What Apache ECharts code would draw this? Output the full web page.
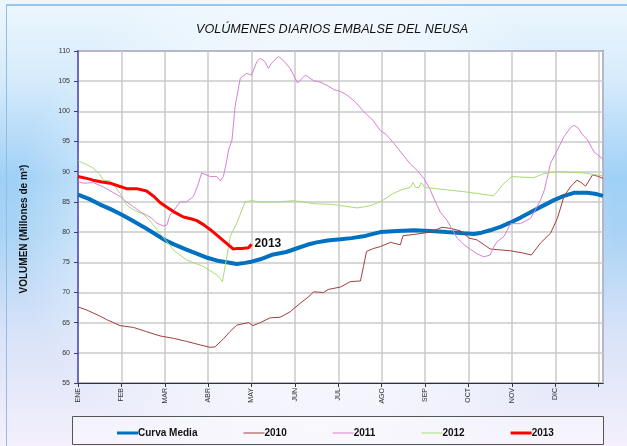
<!DOCTYPE html>
<html>
<head>
<meta charset="utf-8">
<title>Volúmenes diarios embalse del Neusa</title>
<script src="https://cdn.jsdelivr.net/npm/echarts@6/dist/echarts.min.js"></script>
<style>
    html, body { margin:0; padding:0; }
    body {
        width:627px; height:446px; overflow:hidden;
        background:
            radial-gradient(ellipse 48% 60% at 50% 50%, rgba(255,255,255,0.95) 40%, rgba(255,255,255,0) 100%),
            linear-gradient(to bottom, #eef7fe 0%, #d6ebfb 18%, #9fd0f6 40%, #a9d3f5 52%, #d9e3f8 75%, #f4f0fc 100%);
    }
    .frame {
        position:absolute; left:6px; top:4px; right:0; bottom:0;
        border-left:1px solid #8fbde3; border-top:2px solid #9cc6e8;
    }
    #main { position:absolute; left:0; top:0; width:627px; height:446px; }
</style>
</head>
<body>
<div class="frame"></div>
<div id="main"></div>
<script>
    // meses del eje x (posicion = indice del mes)
    var meses = ['ENE', 'FEB', 'MAR', 'ABR', 'MAY', 'JUN', 'JUL', 'AGO', 'SEP', 'OCT', 'NOV', 'DIC']

    // volumenes: [mes, millones de m3]
    var curvaMedia = [
        [0,86.2],[0.25,85.5],[0.5,84.6],[0.75,83.8],[1.0,82.9],[1.25,81.9],[1.5,80.9],[1.75,79.8],
        [2.0,78.7],[2.2,78.0],[2.5,77.1],[2.75,76.4],[3.0,75.7],[3.25,75.2],[3.43,75.0],[3.66,74.7],
        [3.85,74.9],[4.0,75.1],[4.2,75.5],[4.5,76.3],[4.8,76.7],[5.0,77.2],[5.28,77.9],[5.5,78.3],
        [5.75,78.6],[6.05,78.8],[6.3,79.0],[6.58,79.3],[6.8,79.7],[6.97,80.0],[7.36,80.2],[7.75,80.3],
        [8.12,80.2],[8.5,80.0],[8.89,79.8],[9.12,79.7],[9.3,79.9],[9.5,80.3],[9.75,80.9],[9.97,81.6],
        [10.2,82.4],[10.43,83.3],[10.7,84.3],[10.97,85.3],[11.2,86.0],[11.43,86.5],[11.74,86.5],
        [11.95,86.3],[12.1,86.0]
    ]
    var v2010 = [
        [0,67.6],[0.2,67.1],[0.35,66.6],[0.5,66.1],[0.66,65.5],[0.82,65.0],[0.97,64.5],[1.28,64.2],
        [1.58,63.5],[1.89,62.8],[2.2,62.4],[2.5,61.9],[2.82,61.3],[3.05,60.9],[3.16,61.0],[3.35,62.3],
        [3.5,63.5],[3.66,64.6],[3.93,65.0],[4.03,64.5],[4.2,65.0],[4.43,65.8],[4.66,65.9],[4.89,66.8],
        [5.12,68.2],[5.3,69.2],[5.43,70.1],[5.66,70.0],[5.77,70.5],[6.05,70.9],[6.28,71.8],[6.51,71.9],
        [6.58,74.3],[6.65,76.8],[6.82,77.3],[6.97,77.6],[7.2,78.3],[7.43,77.9],[7.49,79.4],[7.74,79.6],
        [8.12,80.0],[8.39,80.8],[8.6,80.6],[8.82,80.2],[9.01,79.0],[9.2,78.7],[9.5,77.2],[9.97,76.9],
        [10.28,76.5],[10.45,76.2],[10.66,78.2],[10.89,79.8],[11.05,82.3],[11.2,85.9],[11.35,87.5],
        [11.5,88.6],[11.6,88.2],[11.7,87.6],[11.86,89.5],[12.0,89.2],[12.1,88.9]
    ]
    var v2011 = [
        [0,88.4],[0.12,88.1],[0.35,88.2],[0.58,87.5],[0.8,86.6],[0.97,85.9],[1.12,85.0],[1.28,84.2],
        [1.45,83.3],[1.58,82.8],[1.7,82.3],[1.81,81.5],[1.97,81.0],[2.05,81.2],[2.12,82.8],[2.25,84.0],
        [2.35,85.0],[2.5,85.0],[2.66,85.9],[2.75,87.5],[2.85,89.8],[3.05,89.2],[3.2,89.2],[3.28,88.5],
        [3.35,89.2],[3.42,91.5],[3.47,93.6],[3.55,95.3],[3.62,100.8],[3.74,105.5],[3.89,106.3],[4.0,106.0],
        [4.12,108.2],[4.2,108.8],[4.3,108.3],[4.39,107.1],[4.45,107.9],[4.62,109.1],[4.75,108.3],
        [4.89,107.1],[5.06,104.7],[5.24,106.0],[5.43,105.1],[5.6,104.8],[5.74,104.3],[5.9,103.6],
        [6.05,103.3],[6.2,102.7],[6.4,101.5],[6.58,100.0],[6.8,98.5],[6.97,96.8],[7.1,96.2],[7.28,94.7],
        [7.5,92.7],[7.66,91.3],[7.82,90.2],[7.97,88.9],[8.1,87.3],[8.2,85.6],[8.35,83.3],[8.5,82.0],
        [8.62,80.5],[8.74,79.0],[8.9,77.9],[9.05,77.1],[9.2,76.4],[9.35,75.9],[9.5,76.2],[9.58,77.5],
        [9.66,78.4],[9.82,79.3],[9.97,81.4],[10.2,81.4],[10.43,82.3],[10.55,83.8],[10.66,85.3],
        [10.75,87.0],[10.89,91.4],[11.05,93.6],[11.2,95.8],[11.35,97.3],[11.43,97.7],[11.52,97.3],
        [11.62,96.2],[11.74,95.3],[11.89,93.3],[12.1,92.1]
    ]
    var v2012 = [
        [0,91.8],[0.2,91.2],[0.35,90.6],[0.5,89.6],[0.58,88.6],[0.74,88.5],[0.85,87.6],[0.97,86.4],
        [1.12,84.5],[1.3,83.6],[1.5,83.0],[1.7,81.5],[1.89,79.8],[2.05,78.4],[2.2,77.0],[2.5,75.4],
        [2.89,74.3],[3.2,72.9],[3.33,71.8],[3.51,79.3],[3.66,81.5],[3.85,85.0],[4.0,85.2],[4.2,85.0],
        [4.6,85.0],[4.97,85.2],[5.2,85.0],[5.43,84.7],[5.82,84.6],[6.05,84.4],[6.43,84.0],[6.7,84.3],
        [6.97,85.0],[7.24,86.3],[7.45,87.0],[7.66,87.4],[7.72,88.2],[7.78,87.4],[7.86,87.4],[7.91,88.2],
        [8.0,87.4],[8.5,87.0],[8.89,86.7],[9.2,86.4],[9.58,86.0],[9.82,88.1],[10.0,89.2],[10.5,89.0],
        [10.74,89.7],[11.05,90.0],[11.66,89.8],[12.1,89.3]
    ]
    var v2013 = [
        [0,89.2],[0.2,88.9],[0.35,88.6],[0.55,88.3],[0.74,88.1],[0.95,87.6],[1.12,87.2],[1.35,87.2],
        [1.58,86.8],[1.75,85.9],[1.89,84.9],[2.05,84.1],[2.2,83.4],[2.43,82.5],[2.6,82.2],[2.74,81.9],
        [2.9,81.2],[3.05,80.4],[3.2,79.5],[3.35,78.6],[3.48,77.8],[3.58,77.2],[3.68,77.3],[3.78,77.3],
        [3.93,77.4],[4.0,78.0]
    ]

    var chartInstance = echarts.init(document.getElementById('main'))

    function serie(name, data, color, width){
        return {
            name:name,
            type:'line',
            data:data,
            symbol:'none',
            smooth:false,
            silent:true,
            lineStyle:{ color:color, width:width },
            itemStyle:{ color:color }
        }
    }

    // icono de leyenda: una raya del grosor de la serie
    function icono(name, grosor){
        return { name:name, icon:'path://M0,0h21v' + grosor + 'h-21z' }
    }

    var serieMedia = serie('Curva Media', curvaMedia, '#0070c0', 4)
    var serie2013 = serie('2013', v2013, '#ff0000', 3)
    serie2013.endLabel = {
        show:true,
        formatter:'2013',
        distance:3,
        fontFamily:'Liberation Sans',
        fontWeight:'bold',
        fontSize:12,
        color:'#111'
    }

    var option = {
        animation:false,
        title:{
            text:'VOLÚMENES DIARIOS EMBALSE DEL NEUSA',
            left:191,
            top:18,
            textStyle:{
                fontFamily:'Liberation Sans',
                fontStyle:'italic',
                fontWeight:'normal',
                fontSize:12.6,
                color:'#111'
            }
        },
        grid:{
            left:78,
            right:24,
            top:51,
            bottom:63,
            show:true,
            backgroundColor:'#ffffff',
            borderColor:'#5858b0',
            borderWidth:1.5
        },
        legend:{
            left:112,
            top:423,
            itemWidth:21,
            itemHeight:12,
            itemGap:46,
            symbolKeepAspect:true,
            textStyle:{
                fontFamily:'Liberation Sans',
                fontWeight:'bold',
                fontSize:10,
                color:'#111',
                padding:[0, 0, 0, -5]
            },
            data:[
                icono('Curva Media', 3),
                icono('2010', 1),
                icono('2011', 1),
                icono('2012', 1),
                icono('2013', 3)
            ]
        },
        xAxis:{
            type:'value',
            min:0,
            max:12.1,
            interval:1,
            axisLine:{ lineStyle:{ color:'#333', width:1 } },
            axisTick:{ show:true, length:4, lineStyle:{ color:'#333' } },
            axisLabel:{
                rotate:90,
                margin:5,
                fontFamily:'Liberation Sans',
                fontSize:7,
                color:'#333',
                showMaxLabel:false,
                formatter:function(v){
                    return meses[v] || ''
                }
            },
            splitLine:{ show:true, lineStyle:{ color:'#cacaca', width:1.5 } }
        },
        yAxis:{
            type:'value',
            min:55,
            max:110,
            interval:5,
            axisLine:{ show:true, lineStyle:{ color:'#6b6bbf', width:2 } },
            axisTick:{ show:true, length:4, lineStyle:{ color:'#3a3a8a' } },
            axisLabel:{
                margin:8,
                fontFamily:'Liberation Sans',
                fontSize:7,
                color:'#333'
            },
            splitLine:{ show:true, lineStyle:{ color:'#cacaca', width:1.5 } }
        },
        graphic:[
            {
                // titulo del eje y
                type:'text',
                x:24,
                y:229,
                rotation:Math.PI / 2,
                silent:true,
                style:{
                    text:'VOLUMEN (Millones de m³)',
                    fontFamily:'Liberation Sans',
                    fontWeight:'bold',
                    fontSize:10,
                    fill:'#111',
                    align:'center',
                    verticalAlign:'middle'
                }
            },
            {
                // recuadro de la leyenda
                type:'rect',
                left:72,
                top:416,
                shape:{ width:531, height:28 },
                style:{ fill:'rgba(255,255,255,0.35)', stroke:'#555', lineWidth:1 },
                z:-1,
                silent:true
            }
        ],
        series:[
            serieMedia,
            serie('2010', v2010, '#a0403c', 1),
            serie('2011', v2011, '#d77fd6', 1),
            serie('2012', v2012, '#a6dd72', 1),
            serie2013
        ]
    }
    chartInstance.setOption(option)
</script>
</body>
</html>
